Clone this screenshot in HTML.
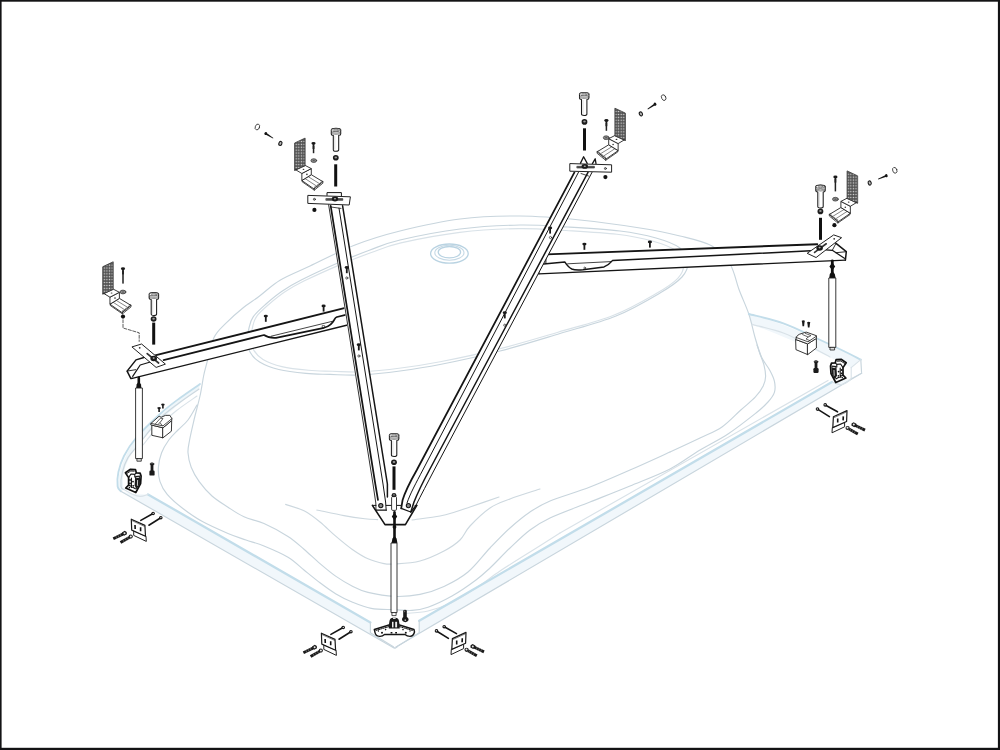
<!DOCTYPE html>
<html><head><meta charset="utf-8"><title>Frame assembly</title>
<style>
html,body{margin:0;padding:0;background:#fff}
body{width:1000px;height:750px;overflow:hidden;font-family:"Liberation Sans",sans-serif}
svg{display:block;position:absolute;left:0;top:0}
</style></head><body>
<svg width="1000" height="750" viewBox="0 0 1000 750">
<rect width="1000" height="750" fill="#fff"/>
<defs>
<pattern id="perf" width="2.6" height="2.9" patternUnits="userSpaceOnUse">
  <rect width="2.6" height="2.9" fill="#555"/>
  <circle cx="1.3" cy="1.45" r="0.7" fill="#ddd"/>
</pattern>
<!-- big socket bolt, origin = top centre of head -->
<g id="bolt">
  <path d="M-4.7,1.6 Q-4.7,0 0,0 Q4.7,0 4.7,1.6 L4.7,5.6 Q4.7,7 2.7,7 L2.7,21.5 Q2.7,23 0,23 Q-2.7,23 -2.7,21.5 L-2.7,7 Q-4.7,7 -4.7,5.6 Z" fill="#fff" stroke="#1a1a1a" stroke-width="1.05"/>
  <ellipse cx="0" cy="1.8" rx="4.6" ry="1.6" fill="#fff" stroke="#333" stroke-width="0.7"/>
  <ellipse cx="0" cy="1.8" rx="2.6" ry="0.8" fill="#ddd" stroke="#444" stroke-width="0.5"/>
  <path d="M-4.7,4.2 Q0,5.6 4.7,4.2 M-4.7,5.4 Q0,6.8 4.7,5.4" fill="none" stroke="#444" stroke-width="0.6"/>
  <path d="M-1.2,8 L-1.2,21" stroke="#bbb" stroke-width="0.5" fill="none"/>
</g>
<g id="nut">
  <ellipse cx="0" cy="0" rx="2.9" ry="2.8" fill="#1d1d1d"/>
  <ellipse cx="0" cy="-0.3" rx="1.3" ry="1.0" fill="#999"/>
</g>
<g id="washer">
  <ellipse cx="0" cy="0" rx="2.9" ry="1.9" fill="#8a8a8a" stroke="#333" stroke-width="0.7"/>
  <ellipse cx="0" cy="0" rx="1.1" ry="0.6" fill="#555"/>
</g>
<circle id="dot" r="2.1" fill="#111"/>
<!-- beam screw (small) origin top centre -->
<g id="bscrew">
  <ellipse cx="0" cy="1.1" rx="2.1" ry="1.4" fill="#1a1a1a"/>
  <rect x="-0.9" y="1" width="1.8" height="5.8" fill="#1a1a1a"/>
</g>
<!-- L bracket: origin = plate top-left -->
<g id="brkL">
  <path d="M7.3,37.4 L7.3,38.9 L19.4,47.3 L28,40.3 L28,38.8 Z" fill="#fff" stroke="#222" stroke-width="0.8"/>
  <path d="M7.3,37.4 L16.4,31.8 L28,38.8 L19.4,45.8 Z" fill="#fff" stroke="#222" stroke-width="0.9"/>
  <path d="M19.4,45.8 L19.4,47.3" stroke="#222" stroke-width="0.8"/>
  <path d="M10.2,35.7 L22.2,43.5 M13.3,33.8 L25.2,41.1 M19.4,45.8 L19.6,44 L22.2,43.5 L22.6,41.8 L25.2,41.1 L25.6,39.4 L28,38.8" fill="none" stroke="#333" stroke-width="0.6"/>
  <path d="M7.3,30.4 L16.4,25.7 L16.4,31.8 L7.3,37.4 Z" fill="#fff" stroke="#222" stroke-width="0.9"/>
  <path d="M1.3,26.8 L10.2,22.5 L16.4,25.7 L7.3,30.4 Z" fill="#fff" stroke="#222" stroke-width="0.9"/>
  <ellipse cx="8.6" cy="26.4" rx="0.9" ry="0.6" fill="#333"/>
  <ellipse cx="12" cy="31.5" rx="0.8" ry="0.8" fill="#333"/>
  <path d="M0,0 L10.2,-4.8 L10.2,22.9 L0,27.3 Z" fill="url(#perf)" stroke="#333" stroke-width="0.8"/>
  <path d="M0,27.3 L1.3,26.8" stroke="#222" stroke-width="0.8"/>
</g>
<g id="ring"><ellipse cx="0" cy="0" rx="2.1" ry="3" fill="none" stroke="#333" stroke-width="0.8"/></g>
<!-- tiny screw pointing along +x from head at origin -->
<g id="tscrew">
  <path d="M0.2,-1 L9.4,-0.35 L9.4,0.35 L0.2,1 Z" fill="#151515"/>
  <ellipse cx="0.5" cy="0" rx="1.3" ry="1.6" fill="#151515"/>
</g>
<g id="swasher"><ellipse cx="0" cy="0" rx="1.5" ry="2.1" fill="#bbb" stroke="#1a1a1a" stroke-width="1.1"/></g>
</defs>
<!-- ================= TUB (light blue) ================= -->
<g fill="none" stroke-linecap="round" stroke-linejoin="round">
<path d="M120.8,491.2 L394,648 L370.4,632.8 L370.4,622.4 L148,494.4 L132,494 Z" fill="#f1f7fb" stroke="none"/>
<path d="M861.6,373.2 L396,647 L419.2,632.8 L419.2,620.8 L832,382 L851.2,378.8 Z" fill="#f1f7fb" stroke="none"/>
<path d="M200,384 C180,398 160,414 136,438 C124,456 118.4,472 117.6,486.4 L120.8,491.2 L124,489.6 C121,478 124,462 138.4,444.8 C159,419.5 179,403 199,389 Z" fill="#eef6fa" stroke="none"/>
<path d="M748.8,314 C784,323.6 816,338 860.8,359.6 L851.2,367.6 C830,357 800,343 752,324.4 Z" fill="#f1f7fb" stroke="none"/>
<path d="M670.0,452.0 C663.3,455.0 643.3,464.2 630.0,470.0 C616.7,475.8 603.3,481.8 590.0,487.0 C576.7,492.2 560.0,496.8 550.0,501.0 C540.0,505.2 536.7,507.5 530.0,512.0 C523.3,516.5 516.7,522.0 510.0,528.0 C503.3,534.0 497.0,540.7 490.0,548.0 C483.0,555.3 475.7,565.6 468.0,572.0 C460.3,578.4 452.0,582.7 444.0,586.4 C436.0,590.1 428.3,592.7 420.0,594.4 C411.7,596.1 402.7,596.7 394.0,596.4 C385.3,596.1 375.0,594.1 368.0,592.4 C361.0,590.7 357.3,588.7 352.0,586.0 C346.7,583.3 341.3,580.1 336.0,576.4 C330.7,572.7 325.3,568.1 320.0,563.6 C314.7,559.1 309.3,553.7 304.0,549.2 C298.7,544.7 294.7,540.7 288.0,536.4 C281.3,532.1 271.3,526.9 264.0,523.6 C256.7,520.3 250.0,519.5 244.0,516.8 C238.0,514.1 233.3,510.7 228.0,507.2 C222.7,503.7 216.8,500.3 212.0,496.0 C207.2,491.7 202.7,486.4 199.2,481.6 C195.7,476.8 193.1,472.0 191.2,467.2 C189.3,462.4 188.3,457.3 188.0,452.8 C187.7,448.3 188.6,445.5 189.6,440.0 C190.6,434.5 192.3,427.3 194.0,420.0 C195.7,412.7 198.4,403.3 200.0,396.0 C201.6,388.7 202.5,381.5 203.6,376.0 C204.7,370.5 205.1,369.6 206.8,363.2 C208.5,356.8 210.8,344.3 214.0,337.6 C217.2,330.9 221.3,328.0 226.0,323.2 C230.7,318.4 236.4,313.3 242.0,308.8 C247.6,304.3 253.2,300.8 259.6,296.0 C266.0,291.2 272.0,285.0 280.4,280.0 C288.8,275.0 297.6,271.8 310.0,266.0 C322.4,260.2 340.0,250.8 355.0,245.0 C370.0,239.2 382.5,235.3 400.0,231.0 C417.5,226.7 440.0,221.5 460.0,219.0 C480.0,216.5 500.0,215.8 520.0,216.0 C540.0,216.2 560.0,218.0 580.0,220.0 C600.0,222.0 623.3,225.3 640.0,228.0 C656.7,230.7 668.0,233.0 680.0,236.0 C692.0,239.0 703.7,241.3 712.0,246.0 C720.3,250.7 725.5,256.7 730.0,264.0 C734.5,271.3 736.1,281.7 739.2,290.0 C742.3,298.3 746.1,306.0 748.8,314.0 C751.5,322.0 753.1,330.8 755.2,338.0 C757.3,345.2 759.2,351.9 761.6,357.2 C764.0,362.5 767.5,366.0 769.6,370.0 C771.7,374.0 773.6,377.5 774.4,381.2 C775.2,384.9 775.5,388.9 774.4,392.4 C773.3,395.9 771.1,398.6 768.0,402.0 C764.9,405.4 762.7,407.7 756.0,413.0 C749.3,418.3 737.3,427.8 728.0,434.0 C718.7,440.2 709.7,444.2 700.0,450.0 C690.3,455.8 681.7,463.0 670.0,469.0 C658.3,475.0 643.3,480.5 630.0,486.0 C616.7,491.5 603.3,496.7 590.0,502.0 C576.7,507.3 560.0,513.3 550.0,518.0 C540.0,522.7 536.7,525.0 530.0,530.0 C523.3,535.0 516.7,541.7 510.0,548.0 C503.3,554.3 495.7,562.7 490.0,568.0 C484.3,573.3 482.3,575.3 476.0,580.0 C469.7,584.7 460.0,591.5 452.0,596.0 C444.0,600.5 434.7,604.8 428.0,607.2 C421.3,609.6 417.7,610.0 412.0,610.4 C406.3,610.8 400.8,609.9 394.0,609.6 C387.2,609.3 378.2,609.7 371.2,608.4 C364.2,607.1 357.9,604.4 352.0,602.0 C346.1,599.6 341.3,597.2 336.0,594.0 C330.7,590.8 325.3,586.8 320.0,582.8 C314.7,578.8 309.3,574.3 304.0,570.0 C298.7,565.7 294.7,561.2 288.0,557.2 C281.3,553.2 271.0,548.9 264.0,546.0 C257.0,543.1 252.0,542.1 246.0,540.0 C240.0,537.9 235.3,536.6 228.0,533.5 C220.7,530.4 209.9,525.7 202.4,521.6 C194.9,517.5 189.1,513.3 183.2,508.8 C177.3,504.3 171.1,498.9 167.2,494.4 C163.3,489.9 161.5,486.1 160.0,481.6 C158.5,477.1 158.1,472.0 158.4,467.2 C158.7,462.4 159.9,457.3 161.6,452.8 C163.3,448.3 166.1,443.8 168.8,440.0 C171.5,436.2 174.8,433.3 178.0,430.0 C181.2,426.7 184.8,424.2 188.0,420.0 C191.2,415.8 195.5,407.5 197.0,405.0" stroke="#c8d5dd" stroke-width="1.15"/>
<path d="M670.0,452.0 C675.0,449.7 691.3,442.2 700.0,438.0 C708.7,433.8 715.2,431.7 722.0,427.0 C728.8,422.3 735.3,415.0 740.8,410.0 C746.3,405.0 751.5,401.2 755.2,397.2 C758.9,393.2 761.5,389.5 763.2,386.0 C764.9,382.5 765.5,379.9 765.6,376.4 C765.7,372.9 764.9,368.9 764.0,365.2 C763.1,361.5 761.2,357.4 760.0,354.0 C758.8,350.6 757.5,346.5 757.0,345.0" stroke="#c8d5dd" stroke-width="1.15"/>
<path d="M400.0,240.0 C415.0,236.5 440.0,231.5 460.0,229.0 C480.0,226.5 502.0,225.3 520.0,225.0 C538.0,224.7 551.3,226.0 568.0,227.0 C584.7,228.0 605.3,229.2 620.0,231.0 C634.7,232.8 646.0,235.2 656.0,238.0 C666.0,240.8 674.7,244.0 680.0,248.0 C685.3,252.0 687.7,257.2 688.0,262.0 C688.3,266.8 686.7,271.8 682.0,277.0 C677.3,282.2 671.0,286.5 660.0,293.0 C649.0,299.5 632.7,309.2 616.0,316.0 C599.3,322.8 579.3,327.7 560.0,333.5 C540.7,339.3 520.0,345.8 500.0,351.0 C480.0,356.2 456.7,361.2 440.0,364.5 C423.3,367.8 413.3,369.2 400.0,371.0 C386.7,372.8 371.7,374.4 360.0,375.0 C348.3,375.6 339.0,374.7 330.0,374.4 C321.0,374.1 314.5,374.2 306.0,373.4 C297.5,372.6 286.5,371.4 278.8,369.5 C271.1,367.6 264.4,364.9 259.6,362.0 C254.8,359.1 252.0,355.7 250.0,352.0 C248.0,348.3 247.6,344.0 247.4,340.0 C247.2,336.0 248.0,331.9 249.0,328.0 C250.0,324.1 250.4,320.8 253.2,316.8 C256.0,312.8 261.2,308.3 266.0,304.0 C270.8,299.7 276.1,295.2 282.0,291.2 C287.9,287.2 291.5,284.9 301.2,280.0 C310.9,275.1 328.5,267.0 340.0,262.0 C351.5,257.0 360.0,253.7 370.0,250.0 C380.0,246.3 385.0,243.5 400.0,240.0 Z" stroke="#c8d5dd" stroke-width="1.15"/>
<path d="M400.9,242.9 C415.6,239.6 440.2,234.8 459.8,232.4 C479.4,230.0 501.0,228.9 518.7,228.6 C536.4,228.3 549.5,229.6 565.9,230.5 C582.2,231.5 602.5,232.6 616.9,234.3 C631.3,236.1 642.5,238.3 652.3,241.0 C662.1,243.7 670.6,246.7 675.8,250.6 C681.1,254.4 683.4,259.3 683.7,263.9 C684.0,268.6 682.4,273.3 677.8,278.3 C673.2,283.2 667.0,287.3 656.2,293.5 C645.4,299.7 629.4,309.1 613.0,315.5 C596.6,322.0 577.0,326.6 558.0,332.2 C539.0,337.8 518.7,344.0 499.1,348.9 C479.4,353.9 456.5,358.6 440.2,361.8 C423.8,365.0 414.0,366.4 400.9,368.0 C387.8,369.7 373.1,371.3 361.6,371.9 C350.1,372.4 341.0,371.5 332.1,371.3 C323.3,371.0 317.0,371.1 308.6,370.3 C300.2,369.5 289.5,368.4 281.9,366.6 C274.3,364.8 267.7,362.2 263.0,359.4 C258.3,356.6 255.6,353.4 253.6,349.9 C251.6,346.4 251.2,342.2 251.0,338.4 C250.9,334.6 251.7,330.7 252.6,327.0 C253.5,323.3 253.9,320.1 256.7,316.3 C259.5,312.4 264.6,308.1 269.3,304.0 C274.0,300.0 279.2,295.6 285.0,291.8 C290.8,288.0 294.4,285.8 303.9,281.1 C313.4,276.5 330.7,268.7 342.0,263.9 C353.2,259.2 361.6,256.0 371.4,252.5 C381.2,249.0 386.2,246.3 400.9,242.9 Z" stroke="#d9e2e8" stroke-width="1.15"/>
<ellipse cx="449.4" cy="253.6" rx="18.8" ry="9.6" stroke="#b9d3e2" stroke-width="1.3"/>
<ellipse cx="449.4" cy="252.8" rx="14.6" ry="7.5" stroke="#c6d9e5" stroke-width="1.1"/>
<ellipse cx="449.4" cy="252.2" rx="11.2" ry="5.7" stroke="#b9d3e2" stroke-width="1.3"/>
<path d="M285.6,504.4 C288.7,505.5 298.3,507.9 304.0,510.8 C309.7,513.7 314.7,517.7 320.0,522.0 C325.3,526.3 330.7,531.9 336.0,536.4 C341.3,540.9 346.7,545.5 352.0,549.2 C357.3,552.9 362.7,556.4 368.0,558.8 C373.3,561.2 379.7,562.7 384.0,563.6 C388.3,564.5 388.0,564.4 394.0,564.0 C400.0,563.6 411.7,563.2 420.0,561.0 C428.3,558.8 437.3,554.5 444.0,551.0 C450.7,547.5 455.7,544.2 460.0,540.0 C464.3,535.8 465.0,531.3 470.0,526.0 C475.0,520.7 483.3,512.5 490.0,508.0 C496.7,503.5 501.7,502.2 510.0,499.0 C518.3,495.8 535.0,490.7 540.0,489.0" stroke="#cdd8df" stroke-width="1.15"/>
<path d="M316.8,510.0 C321.3,510.9 336.0,514.1 344.0,515.6 C352.0,517.1 359.2,518.1 364.8,518.8 C370.4,519.5 375.5,519.5 377.6,519.6" stroke="#cdd8df" stroke-width="1.15"/>
<path d="M412.0,520.0 C416.7,519.3 432.8,517.3 440.0,516.0 C447.2,514.7 450.0,513.5 455.0,512.0 C460.0,510.5 462.7,509.5 470.0,507.0 C477.3,504.5 494.2,498.7 499.0,497.0" stroke="#cdd8df" stroke-width="1.15"/>
<path d="M404.0,613.6 C408.0,613.2 420.0,612.9 428.0,611.0 C436.0,609.1 444.0,606.2 452.0,602.4 C460.0,598.6 468.0,593.2 476.0,588.0 C484.0,582.8 491.0,577.0 500.0,571.0 C509.0,565.0 520.0,558.3 530.0,552.0 C540.0,545.7 555.0,536.2 560.0,533.0" stroke="#d9e2e8" stroke-width="1.15"/>
<path d="M748.8,314.0 C754.7,315.6 772.8,319.6 784.0,323.6 C795.2,327.6 806.4,333.6 816.0,338.0 C825.6,342.4 834.1,346.4 841.6,350.0 C849.1,353.6 857.6,358.0 860.8,359.6" stroke="#c2ddea" stroke-width="1.9"/>
<path d="M752.0,324.4 C757.3,325.9 774.4,329.6 784.0,333.2 C793.6,336.8 801.9,342.0 809.6,346.0 C817.3,350.0 826.6,355.2 830.0,357.0" stroke="#d9e2e8" stroke-width="1.15"/>
<path d="M860.8,359.6 L861.6,373.2" stroke="#c8d5dd" stroke-width="1.15"/>
<path d="M851.2,367.6 L851.2,378.8" stroke="#d9e2e8" stroke-width="1.15"/>
<path d="M851.2,367.6 L860.8,359.6" stroke="#d9e2e8" stroke-width="1.15"/>
<path d="M851.2,378.8 L861.6,373.2" stroke="#d9e2e8" stroke-width="1.15"/>
<path d="M861.6,373.2 L396.0,647.0" stroke="#c8d5dd" stroke-width="1.15"/>
<path d="M832.0,382.0 L419.2,620.8" stroke="#c2ddea" stroke-width="2.3"/>
<path d="M828.0,380.4 L560.0,533.0" stroke="#d9e2e8" stroke-width="1.15"/>
<path d="M832.0,382.0 C833.3,382.4 837.7,384.4 840.0,384.6 C842.3,384.8 844.1,384.0 846.0,383.0 C847.9,382.0 850.3,379.5 851.2,378.8" stroke="#d9e2e8" stroke-width="1.15"/>
<path d="M200.0,384.0 C196.7,386.3 186.7,393.0 180.0,398.0 C173.3,403.0 167.3,407.3 160.0,414.0 C152.7,420.7 142.0,431.0 136.0,438.0 C130.0,445.0 126.9,450.3 124.0,456.0 C121.1,461.7 119.5,466.9 118.4,472.0 C117.3,477.1 117.2,483.2 117.6,486.4 C118.0,489.6 120.3,490.4 120.8,491.2" stroke="#c2ddea" stroke-width="1.8"/>
<path d="M199.0,389.0 C195.7,391.3 185.7,397.9 179.0,403.0 C172.3,408.1 165.8,412.5 159.0,419.5 C152.2,426.5 143.6,438.4 138.4,444.8 C133.2,451.2 130.7,453.1 128.0,457.6 C125.3,462.1 123.6,467.2 122.4,472.0 C121.2,476.8 120.7,483.5 121.0,486.4 C121.3,489.3 123.5,489.1 124.0,489.6" stroke="#cdd8df" stroke-width="1.15"/>
<path d="M197.0,396.0 C193.5,398.5 182.5,405.8 176.0,411.0 C169.5,416.2 163.5,421.3 158.0,427.0 C152.5,432.7 145.5,442.0 143.0,445.0" stroke="#d9e2e8" stroke-width="1.15"/>
<path d="M120.8,491.2 L394.0,648.0" stroke="#c8d5dd" stroke-width="1.15"/>
<path d="M148.0,494.4 L370.4,622.4" stroke="#c2ddea" stroke-width="2.3"/>
<path d="M124.0,489.6 C125.3,490.3 129.3,492.9 132.0,494.0 C134.7,495.1 137.3,496.3 140.0,496.4 C142.7,496.5 146.7,494.7 148.0,494.4" stroke="#d9e2e8" stroke-width="1.15"/>
<path d="M370.4,622.4 L370.4,632.8 L393.0,646.6" stroke="#c8d5dd" stroke-width="1.15"/>
<path d="M419.2,620.8 L419.2,632.8 L396.0,647.2" stroke="#c8d5dd" stroke-width="1.15"/>
<path d="M393.0,646.6 L395.0,648.4 L397.0,647.0" stroke="#c8d5dd" stroke-width="1.15"/>
</g>
<!-- ================= BEAMS ================= -->
<g fill="none" stroke="#151515" stroke-linecap="round" stroke-linejoin="round">
  <!-- ===== left horizontal beam ===== -->
  <path d="M157,356 L346.4,307.6 L347.8,325.6 L133,378.3 L127.3,371 L136,359.9 L144,357.6 Z" fill="#fff" stroke="none"/>
  <path d="M155.1,355.4 L346.2,307.6" stroke-width="1.9"/>
  <path d="M163.6,360.1 L264,335 C267,337 270.5,338.2 276,337.8 L324,327.8 C330,326 333.4,322 334.8,318.8 C335.4,317.6 336,317.4 337,317 L346.6,314.6" stroke-width="1.7"/>
  <path d="M271.2,336.2 L333.6,321" stroke-width="0.8"/>
  <path d="M132.3,378.3 L347.6,325" stroke-width="1.3"/>
  <rect x="322.6" y="325.6" width="2" height="2" stroke-width="0.6"/>
  <!-- left end -->
  <path d="M143.9,357.5 L136,359.9 L127.1,371.1 L130.9,378.6 L132.3,378.3" stroke-width="1.5"/>
  <path d="M149.5,362.2 L140.2,365 L132.7,376.4" stroke-width="1.2"/>
  <path d="M127.1,371.1 L135.6,369.7" stroke-width="0.9"/>

  <!-- ===== right horizontal beam ===== -->
  <path d="M546,254.4 L817,244.2 L836,243.3 L846.3,251.7 L845.4,260.1 L538.9,273.9 L538.9,266 L546,263.5 Z" fill="#fff" stroke="none"/>
  <path d="M546.6,254.4 L817.3,244.2" stroke-width="1.9"/>
  <path d="M541,264.3 L564.8,262 C566.5,264.5 568.5,267.5 571.8,269 C575,270.3 579,270 583,269.7 L604,266.9 C607,265.5 610,263.6 612.4,260.6 L810.8,250.8" stroke-width="1.5"/>
  <path d="M567.6,263.8 L611,261.6" stroke-width="0.8"/>
  <path d="M538.9,273.9 L845.4,260.1" stroke-width="1.3"/>
  <path d="M545.9,255 L545.9,263.6 M538.9,266.2 L538.9,273.9" stroke-width="1"/>
  <circle cx="584.7" cy="268" r="0.9" stroke-width="0.6"/>
  <!-- right end -->
  <path d="M825.8,249.9 L832.3,250.3 L844.4,258.3" stroke-width="1.2"/>
  <path d="M836,243.3 L846.3,251.7 L845.4,260.1" stroke-width="1.5"/>
  <path d="M836,252.7 L846.3,251.7" stroke-width="0.9"/>
  <path d="M832.3,250.3 L836,243.3" stroke-width="0.9"/>

  <!-- ===== left V beam ===== -->
  <path d="M327.8,204.6 L342.6,205.8 L387.4,484 L386.2,510.2 L376,510.2 L372.4,484 Z" fill="#fff" stroke="none"/>
  <path d="M328.6,204.6 L373,484 L375.8,503 L376,510.2" stroke-width="1" stroke="#333"/>
  <path d="M330.7,205.8 L375.3,484 L378,500" stroke-width="1.7"/>
  <path d="M339,208.2 L383,484 L385.6,502 L386.2,510.2" stroke-width="1"/>
  <path d="M342.6,205.8 L387.4,484 L387.4,497" stroke-width="1.5"/>
  <path d="M376,510.2 L386.2,510.2" stroke-width="1.3"/>
  <!-- top cap above plate -->
  <path d="M327,195.4 L327,192.6 L341.4,192.6 L341.4,196.4" stroke-width="1" fill="#fff"/>
  <path d="M331,207 L341,208.4" stroke-width="0.8"/>

  <!-- ===== right V beam ===== -->
  <path d="M574.4,172.4 L592,172.4 L434.2,470 L415.6,506 L410.8,512 L401.2,508.4 L405.4,490.4 L416.8,470 Z" fill="#fff" stroke="none"/>
  <path d="M574.4,172.4 L416.8,470 C410,482 405,492 402.6,500 L401.2,508.4" stroke-width="1.75"/>
  <path d="M578.4,172.4 L422.8,470 C416,483 410,494 407,503" stroke-width="1"/>
  <path d="M588,172.4 L429.4,470 C424,480 418,492 414,502 L410.8,512" stroke-width="1.5"/>
  <path d="M592,172.4 L434.2,470 C428,482 421,495 415.6,506" stroke-width="1"/>
  <path d="M401.2,508.4 L410.8,512 L415.6,506" stroke-width="1.3"/>
  <!-- spikes above plate -->
  <path d="M580.4,163.4 L583.6,156.8 L587.2,163.4 M592.4,163.6 L595.2,158.8 L596,163.6" stroke-width="1.3"/>
  <path d="M581,173.5 L588.5,176" stroke-width="0.8"/>

  <!-- ===== V plate ===== -->
  <path d="M372.4,505.4 L385,524.6 L405.4,524.6 L416.8,505.4" stroke-width="1.6"/>
  <path d="M372.4,505.4 L376,505.4 M386.2,505.4 L391.6,505.4 M396.6,505.4 L401.6,505.4 M415,505.4 L416.8,505.4" stroke-width="1"/>
  <circle cx="380.8" cy="505.6" r="2.1" fill="#888" stroke-width="1.1"/>
  <circle cx="408.4" cy="505.6" r="2.1" fill="#888" stroke-width="1.1"/>
</g>
<!-- ================= PARTS ================= -->
<g stroke-linecap="round" stroke-linejoin="round">

<!-- ---- beam screws + holes ---- -->
<use href="#bscrew" x="265.8" y="315"/>
<use href="#bscrew" x="323.6" y="304.8"/>
<use href="#bscrew" x="584.4" y="243"/>
<use href="#bscrew" x="649.9" y="240.8"/>
<use href="#bscrew" x="346.8" y="266.4"/>
<use href="#bscrew" x="358.8" y="343.6"/>
<use href="#bscrew" x="504.8" y="311.6"/>
<use href="#bscrew" x="550.1" y="226.8"/>
<g fill="#fff" stroke="#2a2a2a" stroke-width="0.7">
 <circle cx="346.8" cy="278" r="1.1"/><circle cx="358.9" cy="356" r="1.1"/>
 <circle cx="504.8" cy="325.2" r="1.1"/><circle cx="550.5" cy="237.5" r="1.1"/>
</g>

<!-- ================= TOP-LEFT V station ================= -->
<path d="M308.2,195.4 L350.4,196.8 L349.2,205 L308.2,203.4 Z" fill="#fff" stroke="#222" stroke-width="1"/>
<circle cx="314.4" cy="199.3" r="1" fill="#ccc" stroke="#222" stroke-width="0.7"/>
<rect x="326.2" y="198.6" width="16.6" height="1.7" fill="#555" stroke="#222" stroke-width="0.6"/>
<ellipse cx="335" cy="199" rx="3.2" ry="2.4" fill="#1a1a1a"/>
<ellipse cx="335" cy="198.8" rx="1.1" ry="0.7" fill="#aaa"/>
<use href="#dot" x="314.4" y="209.9"/>
<use href="#bolt" x="336" y="128.3"/>
<use href="#nut" x="335.8" y="157.8"/>
<rect x="334.2" y="164.3" width="3" height="22.2" fill="#111"/>
<use href="#brkL" x="294.9" y="142.9"/>
<use href="#bscrew" x="313.5" y="142.2" transform="translate(0,0)"/>
<rect x="312.8" y="146" width="1.5" height="7.2" fill="#222"/>
<use href="#washer" x="313.8" y="160.6"/>
<use href="#ring" transform="translate(257.4,127) rotate(22)"/>
<use href="#tscrew" transform="translate(265.3,133.2) rotate(33)"/>
<use href="#swasher" transform="translate(280.4,143.4) rotate(22)"/>

<!-- ================= TOP-RIGHT V station ================= -->
<path d="M570.2,163.6 L611.6,164.8 L611.6,172.2 L570.2,171.2 Z" fill="#fff" stroke="#222" stroke-width="1"/>
<circle cx="605.4" cy="168.5" r="1" fill="#ccc" stroke="#222" stroke-width="0.7"/>
<rect x="577.2" y="166.3" width="17.2" height="1.7" fill="#555" stroke="#222" stroke-width="0.6"/>
<ellipse cx="584.8" cy="166.4" rx="3.2" ry="2.4" fill="#1a1a1a"/>
<ellipse cx="584.8" cy="166.2" rx="1.1" ry="0.7" fill="#aaa"/>
<use href="#dot" x="605.4" y="177.1"/>
<use href="#bolt" x="584.2" y="92.4"/>
<use href="#nut" x="584.5" y="121.9"/>
<rect x="583" y="128.3" width="3" height="22.2" fill="#111"/>
<use href="#brkL" transform="translate(625.1,113) scale(-1,1)"/>
<use href="#bscrew" x="606.4" y="119.4"/>
<rect x="605.65" y="123" width="1.5" height="7.8" fill="#222"/>
<use href="#washer" x="606.2" y="137.7"/>
<use href="#ring" transform="translate(663.7,97.6) rotate(-25)"/>
<use href="#tscrew" transform="translate(655.5,103.9) rotate(146)"/>
<use href="#swasher" transform="translate(640.9,113.9) rotate(-25)"/>

<!-- ================= LEFT END station ================= -->
<path d="M132.3,346.8 L141.6,344 L165.4,364.1 L156.5,367.3 Z" fill="#fff" stroke="#222" stroke-width="1"/>
<circle cx="139.7" cy="347.8" r="0.9" fill="#333"/>
<path d="M147.2,353.6 L158.6,363" stroke="#333" stroke-width="1.7"/>
<ellipse cx="153.7" cy="358.5" rx="3.3" ry="2.8" fill="#1a1a1a"/>
<ellipse cx="153.7" cy="358.1" rx="1.1" ry="0.8" fill="#aaa"/>
<use href="#bolt" x="153.9" y="292.5"/>
<use href="#nut" x="153.6" y="319"/>
<rect x="152.2" y="322.6" width="3" height="22" fill="#111"/>
<use href="#brkL" x="103" y="266.6"/>
<use href="#bscrew" x="123" y="267.6"/>
<rect x="122.25" y="271" width="1.5" height="12.6" fill="#222"/>
<use href="#washer" x="123" y="292"/>
<use href="#dot" x="123" y="316.6"/>
<path d="M123,319.8 L123,328 L139.2,332.8 L139.2,341.4" fill="none" stroke="#333" stroke-width="0.8" stroke-dasharray="3 1.6"/>

<!-- ================= RIGHT END station ================= -->
<path d="M807.5,253.1 L833.7,234.9 L841.6,237.7 L816.4,257.3 Z" fill="#fff" stroke="#222" stroke-width="1"/>
<circle cx="834.2" cy="238.8" r="0.9" fill="#333"/>
<path d="M814.6,252.4 L826.2,243.8" stroke="#333" stroke-width="1.7"/>
<ellipse cx="819.6" cy="248" rx="3.3" ry="2.8" fill="#1a1a1a"/>
<ellipse cx="819.6" cy="247.6" rx="1.1" ry="0.8" fill="#aaa"/>
<use href="#bolt" x="820.5" y="185"/>
<use href="#nut" x="820.4" y="211.4"/>
<rect x="819" y="217.8" width="3" height="22" fill="#111"/>
<use href="#brkL" transform="translate(857.3,175.7) scale(-1,1)"/>
<use href="#bscrew" x="835.4" y="175.8"/>
<rect x="834.65" y="179" width="1.5" height="12.4" fill="#222"/>
<use href="#washer" x="835.4" y="199.2"/>
<use href="#dot" x="834.4" y="225.2"/>
<use href="#ring" transform="translate(894.8,170.3) rotate(-20)"/>
<use href="#tscrew" transform="translate(886.8,175.5) rotate(157)"/>
<use href="#swasher" transform="translate(869.7,183) rotate(-20)"/>

<!-- ================= CENTRE (V) bolt stack ================= -->
<use href="#bolt" x="394.1" y="433.4"/>
<use href="#nut" x="394" y="462.3"/>
<rect x="392.5" y="466.4" width="3" height="23.4" fill="#111"/>
<rect x="391.6" y="496.4" width="4.9" height="14" rx="1.2" fill="#fff" stroke="#222" stroke-width="0.9"/>
<ellipse cx="394" cy="495.2" rx="2.4" ry="2.1" fill="#222"/>
<ellipse cx="394" cy="494.9" rx="0.9" ry="0.7" fill="#aaa"/>

<!-- ================= LEGS ================= -->
<!-- left leg -->
<path d="M138.8,377.8 L138.8,388" stroke="#111" stroke-width="2.6"/>
<path d="M136.6,384.4 L138.8,381.2 L141,384.4 L141.4,388 L136.2,388 Z" fill="#111"/>
<rect x="136" y="388" width="6.4" height="70.6" fill="#fff" stroke="#222" stroke-width="0.9"/>
<rect x="137.3" y="458.6" width="4" height="2.6" fill="#ddd" stroke="#222" stroke-width="0.8"/>
<!-- right leg -->
<path d="M832.3,261 L832.3,278" stroke="#111" stroke-width="2.8"/>
<path d="M829.4,266.6 L832.3,262.6 L835.2,266.6 L832.3,270.6 Z M829.8,274 L832.3,271 L834.8,274 L835.6,278 L829.2,278 Z" fill="#111"/>
<rect x="829.2" y="278" width="6.6" height="69.4" fill="#fff" stroke="#222" stroke-width="0.9"/>
<rect x="830.4" y="347.4" width="4.2" height="2.6" fill="#ddd" stroke="#222" stroke-width="0.8"/>
<!-- centre leg -->
<path d="M394.5,512.4 L394.5,543" stroke="#111" stroke-width="2.6"/>
<path d="M391.8,516.6 L394.5,512.6 L397.2,516.6 L394.5,520.8 Z M392.4,527 L394.5,524 L396.6,527 L394.5,530 Z M392.4,538.6 L394.5,536 L396.6,538.6 L397.4,543 L391.6,543 Z" fill="#111"/>
<rect x="391.4" y="543" width="5.6" height="69.6" fill="#fff" stroke="#222" stroke-width="0.9"/>
<rect x="392.3" y="612.6" width="3.8" height="3" fill="#fff" stroke="#222" stroke-width="0.8"/>

<!-- ================= centre foot ================= -->
<path d="M374.3,629.5 L389,625 L399.5,625 L414,629.5 L414.5,632 Q413.6,636 410,636.4 Q407,636.4 405,634.5 L384.5,634.5 Q382.5,636.6 379.5,636.4 Q375.6,636 375,632.5 Z" fill="#fff" stroke="#151515" stroke-width="1.4"/>
<path d="M376,630.4 L389,626.6 M399.5,626.6 L412.4,630.4" stroke="#151515" stroke-width="1" stroke-dasharray="1.4 1" fill="none"/>
<path d="M388.8,628.4 Q388.8,619.4 391,618.2 Q394.2,616.8 397.4,618.2 Q399.7,619.4 399.7,628.4 Z" fill="#1a1a1a"/>
<rect x="392" y="621.8" width="1.5" height="5.6" fill="#eee"/><rect x="395.2" y="621.8" width="1.9" height="5.6" fill="#eee"/>
<rect x="393" y="617.4" width="2.6" height="1.6" fill="#ddd"/>
<g fill="#151515"><circle cx="382" cy="632.7" r="1"/><rect x="390.6" y="632" width="1.8" height="1.5"/><rect x="395.2" y="632" width="1.8" height="1.5"/><circle cx="405.8" cy="632.7" r="1"/><circle cx="378.4" cy="631" r="0.7"/><circle cx="385.6" cy="629.6" r="0.8"/><circle cx="403" cy="629.6" r="0.8"/><circle cx="410" cy="631" r="0.7"/></g>
<path d="M403.2,610.4 Q405,609 406.8,610.4 L406.8,617 Q408.6,617.6 408.6,619.6 Q408.4,622 405.4,622.2 Q402.2,622 402,619.6 Q402,617.6 403.2,617 Z" fill="#1a1a1a"/>
<rect x="404.6" y="619.4" width="1.4" height="1.6" fill="#aaa"/><rect x="404.2" y="610.6" width="1" height="1.6" fill="#888"/>

<!-- ================= boxes ================= -->
<g fill="#fff" stroke="#222" stroke-width="0.9">
 <!-- left box -->
 <path d="M152.2,425.2 L163,427.8 L163,437.8 L152.2,435.4 Z"/>
 <path d="M163,427.8 L171.7,420.6 L171.4,431.2 L163,437.8 Z"/>
 <path d="M151,423.4 L159.1,416.2 L161.2,417.3 L165.4,415.4 L169.8,415.3 L171.9,418.6 L171.7,420.6 L163,427.8 L151.2,425 Z"/>
 <path d="M151,423.4 L163,425.9 L171.9,418.6" fill="none" stroke-width="0.8"/>
 <path d="M155.2,424.1 L160.4,418.2 L163,418.6 L160,422.6 L162.2,425.6 M157.8,424.6 L160,422.6" fill="none" stroke-width="0.7"/>
 <!-- right box -->
 <path d="M796,339.6 L807.7,343.9 L807.7,354.6 L796.3,349.8 Z"/>
 <path d="M807.7,343.9 L816.4,338.4 L816.4,348 L807.7,354.6 Z"/>
 <path d="M796,338.8 Q796,336.8 797.6,335.4 L799.6,334.2 L806.2,332.1 L816.4,335.7 L816.4,338.4 L807.7,343.9 L796,339.6 Z"/>
 <path d="M796,337.4 L808,341.8 L816.4,336.2" fill="none" stroke-width="0.8"/>
 <path d="M802.6,334.6 L808.2,337 L806,339 L809.8,340.6 M805.4,333.4 L811,335.6 L808.2,337" fill="none" stroke-width="0.7"/>
</g>
<g fill="#1a1a1a">
 <path d="M157.3,407.6 Q159.1,406.6 160.9,407.6 L160.4,409 L159.9,409 L159.9,412 L158.3,412 L158.3,409 L157.8,409 Z"/>
 <path d="M161.1,404 Q162.9,403 164.7,404 L164.2,405.4 L163.7,405.4 L163.7,408.4 L162.1,408.4 L162.1,405.4 L161.6,405.4 Z"/>
 <path d="M801.7,320.8 Q803.3,319.8 804.9,320.8 L804.5,322.4 L804.1,326.2 L802.5,326.2 L802.1,322.4 Z"/>
 <path d="M807.1,322.3 Q808.7,321.3 810.3,322.3 L809.9,323.9 L809.5,327.4 L807.9,327.4 L807.5,323.9 Z"/>
</g>

<!-- bolts near foot brackets (head down) -->
<g fill="#1a1a1a">
 <ellipse cx="152" cy="464" rx="1.9" ry="1.2" fill="#555" stroke="#111" stroke-width="0.6"/>
 <rect x="150.6" y="464" width="2.8" height="8"/><rect x="149.4" y="470.6" width="5.2" height="5" rx="1.2"/>
 <ellipse cx="816" cy="361.8" rx="1.9" ry="1.2" fill="#555" stroke="#111" stroke-width="0.6"/>
 <rect x="814.6" y="361.8" width="2.8" height="7.6"/><rect x="813.4" y="368" width="5.2" height="5" rx="1.2"/>
</g>

<!-- ================= foot brackets ================= -->
<g id="footL">
 <path d="M125.4,472.8 L130.5,469.3 L135.5,469.6 L136.3,472.8 L140.1,473.1 L141.1,476 L140.6,483.5 L135.8,492.5 L125.7,488 L128.6,485.1 L128.6,477.6 Z" fill="#fff" stroke="#111" stroke-width="1.7"/>
 <path d="M135.2,476 L140.2,475.6 L139.9,483.4 L136.6,489.4 L134.6,485.6 Z" fill="#1c1c1c"/>
 <path d="M136.6,477.6 L138.8,477.4 M137.6,480.4 L137.4,485.4" stroke="#ddd" stroke-width="0.9" fill="none"/>
 <path d="M128.6,477.6 L131,474 L134.8,474.4 L136.3,472.8 M134.8,474.4 L134.8,477 M131.4,478 L131.4,487.4 M128.6,485.1 L135.4,488.8" fill="none" stroke="#111" stroke-width="1.1"/>
 <path d="M127,473.4 L130.8,471 L134.2,471.2" fill="none" stroke="#111" stroke-width="0.9"/>
 <g fill="#111"><circle cx="130" cy="480" r="0.9"/><circle cx="130" cy="483.4" r="0.9"/><circle cx="133" cy="481.6" r="0.9"/><circle cx="133.2" cy="485.8" r="0.9"/><circle cx="129.4" cy="487.6" r="0.8"/></g>
</g>
<use href="#footL" transform="translate(971.6,-110) scale(-1,1)"/>

<!-- ================= clips ================= -->
<!-- clip A: plate leaning, pins to upper-right, anchors lower-left -->
<defs><g id="clipA">
 <path d="M2.4,12 L2.4,16.2 L15,22.2 L14.7,17.4 Z" fill="#fff" stroke="#222" stroke-width="1"/>
 <path d="M0,0 L13.6,6.2 L14.2,17 L0.4,10.9 Z" fill="#fff" stroke="#1a1a1a" stroke-width="1.2"/>
 <path d="M0.6,1.4 L13.2,7.2" fill="none" stroke="#333" stroke-width="0.6"/>
 <path d="M3.7,5.8 L3.9,9.8 M9.3,8 L9.3,12" stroke="#111" stroke-width="1.6" fill="none" stroke-linecap="butt"/>
 <path d="M9.5,1.2 L21.3,-5.4 M17.6,6 L29.1,-1.2" stroke="#151515" stroke-width="1.6" fill="none"/>
 <circle cx="21.8" cy="-5.7" r="1.8" fill="#151515"/><circle cx="29.5" cy="-1.5" r="1.8" fill="#151515"/>
 <circle cx="21.9" cy="-5.8" r="0.7" fill="#ddd"/><circle cx="29.6" cy="-1.6" r="0.7" fill="#ddd"/>
 <g stroke="#1a1a1a" fill="none" stroke-linecap="butt">
  <path d="M-18,19.5 L-8.4,14.9 M-10.8,23.4 L-2,18.3" stroke-width="2.9"/>
 </g>
 <g stroke="#fff" stroke-width="0.3" fill="none">
  <path d="M-15.6,17 L-14.6,19.2 M-13.4,16 L-12.4,18.2 M-11.2,15 L-10.2,17.2 M-8.4,20.6 L-7.2,22.6 M-6.2,19.4 L-5,21.4 M-4,18.2 L-2.8,20.2"/>
 </g>
 <path d="M-9.4,13.2 L-6.6,11.6 L-4.6,12.8 L-4.4,15 L-7.2,16.6 L-9.2,15.4 Z" fill="#1a1a1a"/>
 <circle cx="-6.8" cy="14" r="1" fill="#e8e8e8"/>
 <circle cx="-0.6" cy="17.4" r="2.1" fill="#1a1a1a"/>
 <circle cx="-0.5" cy="17.2" r="1" fill="#e8e8e8"/>
</g></defs>
<use href="#clipA" x="321.4" y="633.2"/>
<use href="#clipA" x="131.3" y="519.2"/>
<use href="#clipA" transform="translate(466,632.4) scale(-1,1)"/>
<use href="#clipA" transform="translate(847,410.6) scale(-1,1)"/>
</g>
<!-- frame -->
<g fill="#131315">
<rect x="0" y="0" width="1000" height="1.7"/>
<rect x="0" y="0" width="1.6" height="750"/>
<rect x="997.9" y="0" width="2.1" height="750"/>
<rect x="0" y="747.8" width="1000" height="2.2"/>
</g>
</svg>
</body></html>
